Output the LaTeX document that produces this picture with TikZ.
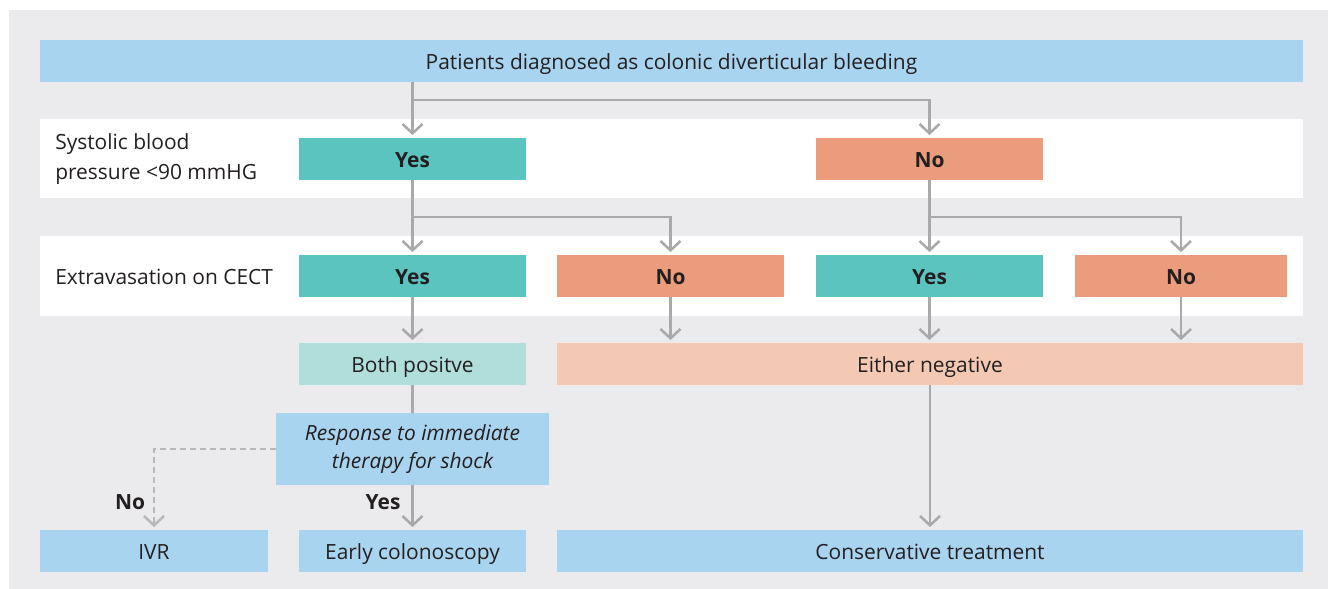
\documentclass[tikz,border=0pt]{standalone}
\usepackage{fontspec}
\setmainfont{Open Sans}
\usetikzlibrary{arrows.meta}
\definecolor{bgray}{HTML}{EBEBED}
\definecolor{cblue}{HTML}{A8D4EF}
\definecolor{cteal}{HTML}{5BC4BE}
\definecolor{csalmon}{HTML}{EA9C7C}
\definecolor{lteal}{HTML}{B0DEDA}
\definecolor{lsalmon}{HTML}{F4C9B3}
\definecolor{lgray}{HTML}{A9A9AB}
\definecolor{dgray}{HTML}{B8B8BA}
\definecolor{txt}{HTML}{231F20}
\tikzset{
  box/.style 2 args={draw=none, inner sep=0pt, text=txt, align=center,
    minimum width=#1*0.75pt, minimum height=#2*0.75pt, font=\fontsize{15.7}{22}\selectfont},
  one/.style={text height=12pt, text depth=0pt},
  yesno/.style={font=\fontsize{15.7}{22}\selectfont\bfseries},
  arr/.style={draw=lgray, line width=1.9pt, -{Straight Barb[length=7pt, width=15pt, line width=1.9pt]}, shorten >=2pt},
  lin/.style={draw=lgray, line width=1.9pt},
  dasharr/.style={draw=dgray, line width=1.9pt, dash pattern=on 4.5pt off 3pt, -{Straight Barb[length=7pt, width=15pt, line width=1.9pt]}, shorten >=2pt},
  lbl/.style={text=txt, inner sep=0pt, font=\fontsize{15.7}{22.5}\selectfont},
}
\begin{document}
\begin{tikzpicture}[x=0.75pt, y=-0.75pt]
\useasboundingbox (0,0) rectangle (1328,589);
\fill[white] (0,0) rectangle (1328,589);
\fill[bgray] (9,10) rectangle (1328,589);
\fill[white] (40,119) rectangle (1303,198);
\fill[white] (40,236) rectangle (1303,316);

\node[box={1263}{42}, one, fill=cblue] (top) at (671.5,61) {Patients diagnosed as colonic diverticular bleeding};

\node[lbl, anchor=west, align=left] (lab1) at (55,159) {Systolic blood\\pressure <90 mmHG};
\node[box={227}{42}, one, fill=cteal, yesno] (y1) at (412.5,159) {Yes};
\node[box={227}{42}, one, fill=csalmon, yesno] (n1) at (929.5,159) {No};

\node[lbl, one, anchor=west] (lab2) at (55,276) {Extravasation on CECT};
\node[box={227}{42}, one, fill=cteal, yesno] (y2a) at (412.5,276) {Yes};
\node[box={227}{42}, one, fill=csalmon, yesno] (n2a) at (670.5,276) {No};
\node[box={227}{42}, one, fill=cteal, yesno] (y2b) at (929.5,276) {Yes};
\node[box={212}{42}, one, fill=csalmon, yesno] (n2b) at (1181,276) {No};

\node[box={227}{42}, one, fill=lteal] (bp) at (412.5,364) {Both positve};
\node[box={746}{42}, one, fill=lsalmon] (en) at (930,364) {Either negative};

\node[box={273}{72}, fill=cblue, font=\fontsize{15.7}{21}\selectfont\itshape] (resp) at (412.5,449) {Response to immediate\\therapy for shock};

\node[box={228}{42}, one, fill=cblue] (ivr) at (154,551) {IVR};
\node[box={227}{42}, one, fill=cblue] (ec) at (412.5,551) {Early colonoscopy};
\node[box={746}{42}, one, fill=cblue] (ct) at (930,551) {Conservative treatment};

% connectors
\coordinate (s0) at (412.5,100);
\draw[arr] (top.south -| y1.north) -- (y1.north);
\draw[arr] (s0) -| (n1.north);

\coordinate (s1) at (412.5,217);
\draw[arr] (y1.south) -- (y2a.north);
\draw[arr] (s1) -| (n2a.north);
\coordinate (s2) at (929.5,217);
\draw[arr] (n1.south) -- (y2b.north);
\draw[arr] (s2) -| (n2b.north);

\draw[arr] (y2a.south) -- (bp.north);
\draw[arr] (n2a.south) -- (n2a.south |- en.north);
\draw[arr] (y2b.south) -- (y2b.south |- en.north);
\draw[arr] (n2b.south) -- (n2b.south |- en.north);

\draw[lin] (bp.south) -- (resp.north);
\draw[arr] (resp.south) -- (ec.north);
\draw[dasharr] (resp.west) -| (ivr.north);
\draw[arr] (en.south) -- (ct.north);

\node[lbl, one, yesno] (lno) at (130,501) {No};
\node[lbl, one, yesno] (lyes) at (383,501) {Yes};
\end{tikzpicture}
\end{document}
